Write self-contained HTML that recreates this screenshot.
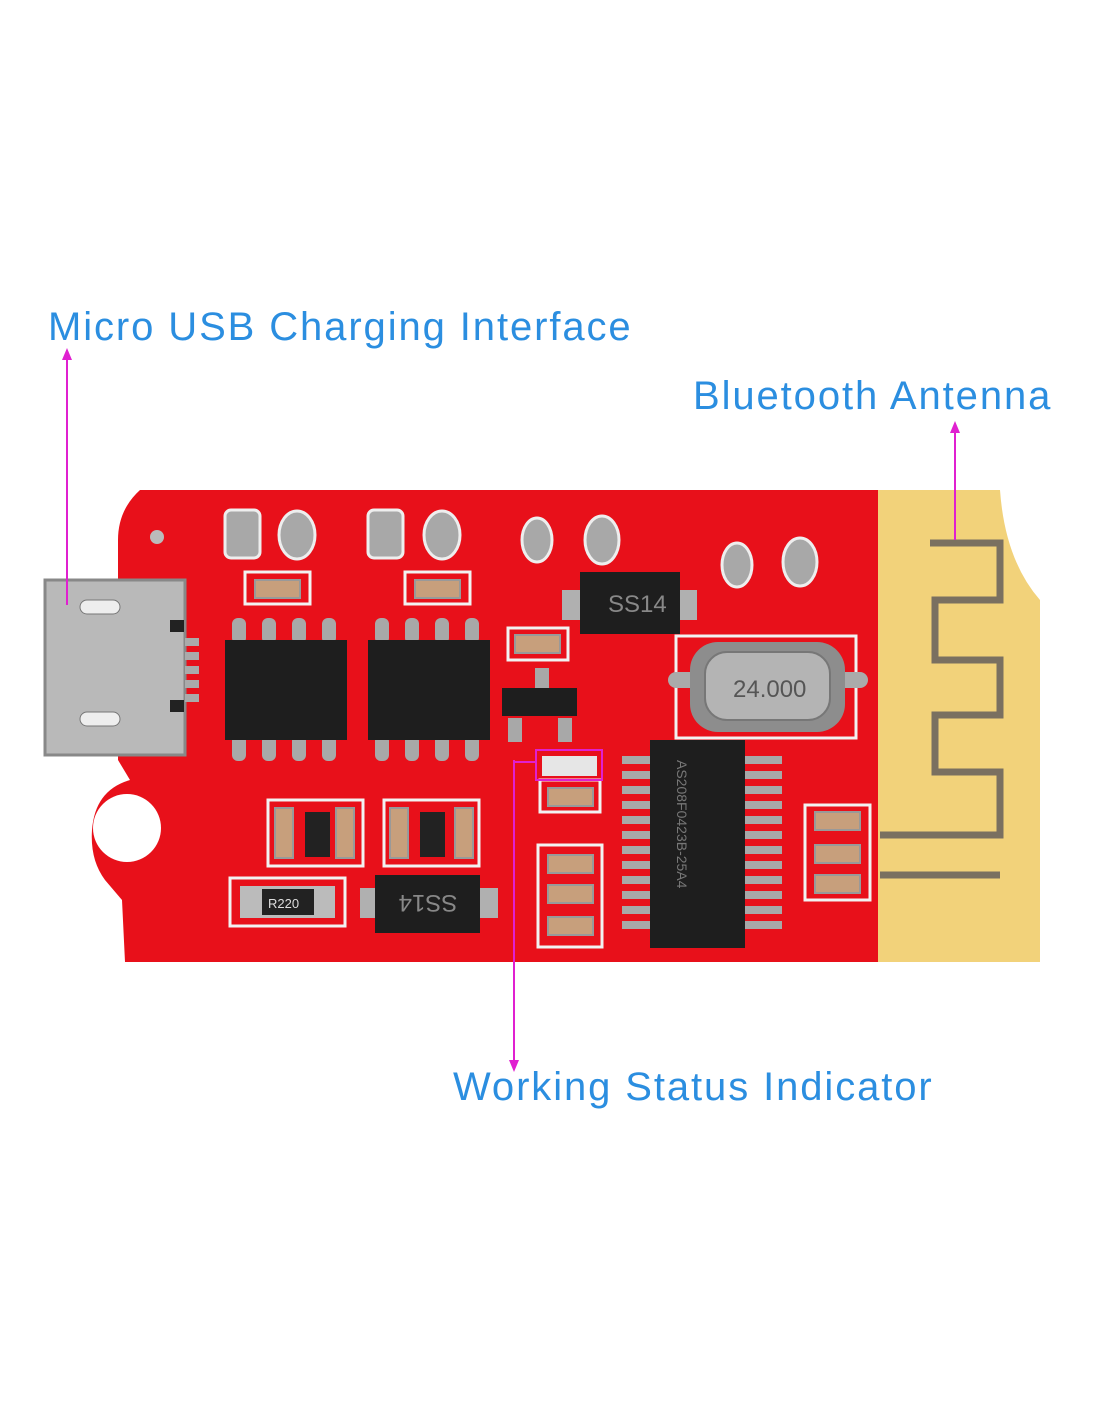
<!DOCTYPE html>
<html><head><style>
html,body{margin:0;padding:0;background:#fff;}
.t{position:absolute;font-family:"Liberation Sans",sans-serif;color:#2b8ee0;font-size:40px;letter-spacing:1.9px;white-space:nowrap;}
</style></head><body>
<div style="position:relative;width:1100px;height:1422px;overflow:hidden;background:#fff">
<div class="t" style="left:48px;top:305px">Micro USB Charging Interface</div>
<div class="t" style="left:693px;top:374px">Bluetooth Antenna</div>
<div class="t" style="left:453px;top:1065px">Working Status Indicator</div>
<svg width="1100" height="1422" style="position:absolute;left:0;top:0">
<path d="M140,490 L880,490 L880,962 L125,962 L122,900 L105,880 Q90,860 92,830 Q95,790 130,780 L118,760 L118,540 Q118,510 140,490Z" fill="#e8101a"/>
<circle cx="127" cy="828" r="34" fill="#fff"/>
<circle cx="157" cy="537" r="7" fill="#bbb"/>
<path d="M878,490 L1000,490 Q1005,560 1040,600 L1040,962 L878,962Z" fill="#f2d27a"/>
<path d="M880,835 L1000,835 L1000,772 L935,772 L935,715 L1000,715 L1000,660 L935,660 L935,600 L1000,600 L1000,543 L930,543" fill="none" stroke="#7a7060" stroke-width="7"/>
<path d="M880,875 L1000,875" stroke="#7a7060" stroke-width="7"/>
<rect x="45" y="580" width="140" height="175" fill="#b9b9b9"/>
<rect x="45" y="580" width="140" height="175" fill="none" stroke="#888" stroke-width="3"/>
<rect x="80" y="600" width="40" height="14" rx="7" fill="#eee" stroke="#777"/>
<rect x="80" y="712" width="40" height="14" rx="7" fill="#eee" stroke="#777"/>
<rect x="170" y="620" width="14" height="12" fill="#222"/><rect x="170" y="700" width="14" height="12" fill="#222"/>
<g fill="#aaa"><rect x="185" y="638" width="14" height="8"/><rect x="185" y="652" width="14" height="8"/><rect x="185" y="666" width="14" height="8"/><rect x="185" y="680" width="14" height="8"/><rect x="185" y="694" width="14" height="8"/></g>
<g fill="#a8a8a8" stroke="#eee" stroke-width="3">
<rect x="225" y="510" width="35" height="48" rx="6"/><ellipse cx="297" cy="535" rx="18" ry="24"/>
<rect x="368" y="510" width="35" height="48" rx="6"/><ellipse cx="442" cy="535" rx="18" ry="24"/>
<ellipse cx="537" cy="540" rx="15" ry="22"/><ellipse cx="602" cy="540" rx="17" ry="24"/>
<ellipse cx="737" cy="565" rx="15" ry="22"/><ellipse cx="800" cy="562" rx="17" ry="24"/>
</g>
<g fill="none" stroke="#f2f2f2" stroke-width="3">
<rect x="245" y="572" width="65" height="32"/><rect x="405" y="572" width="65" height="32"/>
<rect x="508" y="628" width="60" height="32"/><rect x="540" y="780" width="60" height="32"/>
<rect x="268" y="800" width="95" height="66"/><rect x="384" y="800" width="95" height="66"/>
<rect x="230" y="878" width="115" height="48"/><rect x="538" y="845" width="64" height="102"/>
<rect x="805" y="805" width="65" height="95"/><rect x="676" y="636" width="180" height="102"/>
</g>
<g fill="#c79f7c" stroke="#999" stroke-width="2">
<rect x="255" y="580" width="45" height="18"/><rect x="415" y="580" width="45" height="18"/>
<rect x="515" y="635" width="45" height="18"/><rect x="548" y="788" width="45" height="18"/>
<rect x="275" y="808" width="18" height="50"/><rect x="336" y="808" width="18" height="50"/>
<rect x="390" y="808" width="18" height="50"/><rect x="455" y="808" width="18" height="50"/>
<rect x="548" y="855" width="45" height="18"/><rect x="548" y="885" width="45" height="18"/><rect x="548" y="917" width="45" height="18"/>
<rect x="815" y="812" width="45" height="18"/><rect x="815" y="845" width="45" height="18"/><rect x="815" y="875" width="45" height="18"/>
</g>
<rect x="305" y="812" width="25" height="45" fill="#222"/><rect x="420" y="812" width="25" height="45" fill="#222"/>
<rect x="240" y="886" width="95" height="32" fill="#bbb"/><rect x="262" y="889" width="52" height="26" fill="#222"/>
<text x="268" y="908" font-family="Liberation Sans" font-size="13" fill="#ddd">R220</text>
<g fill="#a8a8a8">
<rect x="232" y="618" width="14" height="26" rx="6"/><rect x="262" y="618" width="14" height="26" rx="6"/><rect x="292" y="618" width="14" height="26" rx="6"/><rect x="322" y="618" width="14" height="26" rx="6"/>
<rect x="232" y="735" width="14" height="26" rx="6"/><rect x="262" y="735" width="14" height="26" rx="6"/><rect x="292" y="735" width="14" height="26" rx="6"/><rect x="322" y="735" width="14" height="26" rx="6"/>
<rect x="375" y="618" width="14" height="26" rx="6"/><rect x="405" y="618" width="14" height="26" rx="6"/><rect x="435" y="618" width="14" height="26" rx="6"/><rect x="465" y="618" width="14" height="26" rx="6"/>
<rect x="375" y="735" width="14" height="26" rx="6"/><rect x="405" y="735" width="14" height="26" rx="6"/><rect x="435" y="735" width="14" height="26" rx="6"/><rect x="465" y="735" width="14" height="26" rx="6"/>
</g>
<rect x="225" y="640" width="122" height="100" fill="#1e1e1e"/>
<rect x="368" y="640" width="122" height="100" fill="#1e1e1e"/>
<rect x="502" y="688" width="75" height="28" fill="#1e1e1e"/>
<g fill="#a8a8a8"><rect x="508" y="718" width="14" height="24"/><rect x="558" y="718" width="14" height="24"/><rect x="535" y="668" width="14" height="20"/></g>
<rect x="562" y="590" width="135" height="30" fill="#b0b0b0"/>
<rect x="580" y="572" width="100" height="62" fill="#1e1e1e"/>
<text x="608" y="612" font-family="Liberation Sans" font-size="24" fill="#888">SS14</text>
<rect x="360" y="888" width="138" height="30" fill="#b0b0b0"/>
<rect x="375" y="875" width="105" height="58" fill="#1e1e1e"/>
<text x="428" y="913" text-anchor="middle" font-family="Liberation Sans" font-size="24" fill="#888" transform="rotate(180 428 904)">SS14</text>
<rect x="668" y="672" width="200" height="16" rx="8" fill="#aaa"/>
<rect x="690" y="642" width="155" height="90" rx="28" fill="#8d8d8d"/>
<rect x="705" y="652" width="125" height="68" rx="22" fill="#b4b4b4" stroke="#777" stroke-width="2"/>
<text x="733" y="697" font-family="Liberation Sans" font-size="24" fill="#555">24.000</text>
<g stroke="#a8a8a8" stroke-width="8">
<path d="M622,760h30M622,775h30M622,790h30M622,805h30M622,820h30M622,835h30M622,850h30M622,865h30M622,880h30M622,895h30M622,910h30M622,925h30"/>
<path d="M742,760h40M742,775h40M742,790h40M742,805h40M742,820h40M742,835h40M742,850h40M742,865h40M742,880h40M742,895h40M742,910h40M742,925h40"/>
</g>
<rect x="650" y="740" width="95" height="208" fill="#1e1e1e"/>
<text x="0" y="0" font-family="Liberation Sans" font-size="14" fill="#777" transform="translate(677 760) rotate(90)">AS208F0423B-25A4</text>
<rect x="542" y="756" width="55" height="20" fill="#e6e6e6"/>
<g stroke="#e020d0" stroke-width="2" fill="none">
<path d="M67,352 V605"/><path d="M955,425 V540"/><path d="M514,760 V1066"/><path d="M514,762 H536"/>
<rect x="536" y="750" width="66" height="30"/>
</g>
<g fill="#e020d0"><path d="M62,360 L67,348 L72,360Z"/><path d="M950,433 L955,421 L960,433Z"/><path d="M509,1060 L514,1072 L519,1060Z"/></g>
</svg>
</div>
</body></html>
